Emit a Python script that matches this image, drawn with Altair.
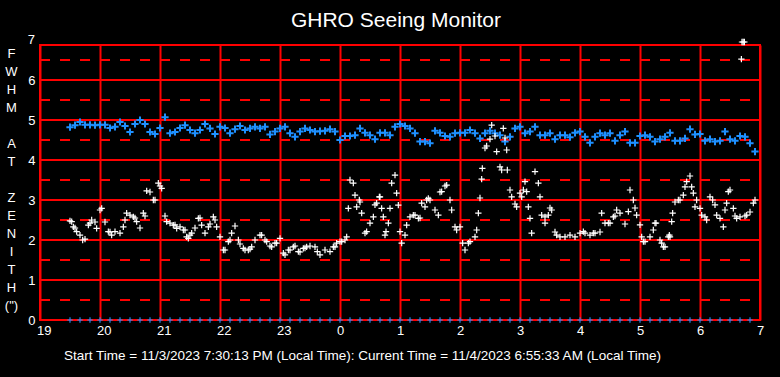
import altair as alt
import pandas as pd

# ---- data (FWHM in arcsec, sampled every 5 minutes from 19:30) ----
start_hour = 19.5
step_hours = 1 / 12

blue_fwhm = [
    4.82, 4.87, 4.95, 4.88, 4.88, 4.87, 4.88, 4.88, 4.80, 4.83, 4.95, 4.85, 4.70,
    4.90, 5.00, 4.90, 4.70, 4.65, 4.80, 5.07, 4.67, 4.70, 4.80, 4.87, 4.75,
    4.67, 4.75, 4.90, 4.79, 4.65, 4.83, 4.80, 4.67, 4.77, 4.85, 4.75, 4.79,
    4.83, 4.79, 4.83, 4.64, 4.71, 4.79, 4.83, 4.67, 4.58, 4.71, 4.79, 4.75,
    4.71, 4.72, 4.73, 4.77, 4.71, 4.50, 4.60, 4.60, 4.62, 4.79, 4.68, 4.62,
    4.52, 4.68, 4.68, 4.62, 4.83, 4.90, 4.85, 4.79, 4.67, 4.46, 4.46, 4.42,
    4.73, 4.68, 4.60, 4.58, 4.67, 4.68, 4.68, 4.75, 4.67, 4.54, 4.67, 4.73,
    4.67, 4.62, 4.46, 4.58, 4.79, 4.83, 4.67, 4.71, 4.83, 4.62, 4.62, 4.67,
    4.52, 4.62, 4.62, 4.57, 4.68, 4.71, 4.58, 4.43, 4.58, 4.67, 4.62, 4.67,
    4.48, 4.62, 4.71, 4.43, 4.43, 4.60, 4.62, 4.58, 4.46, 4.52, 4.58, 4.68,
    4.48, 4.48, 4.54, 4.77, 4.64, 4.65, 4.48, 4.52, 4.46, 4.48, 4.71, 4.52,
    4.48, 4.60, 4.58, 4.42, 4.21,
]

white_fwhm = [
    2.48, 2.30, 2.12, 2.02, 2.42, 2.45, 2.75, 2.45, 2.20, 2.21, 2.17, 2.50, 2.62,
    2.55, 2.30, 2.60, 3.20, 3.00, 3.35, 2.60, 2.42, 2.38, 2.33, 2.25, 2.12,
    2.30, 2.55, 2.17, 2.40, 2.50, 2.08, 1.75, 2.00, 2.35, 1.90, 1.75, 1.77,
    2.00, 2.12, 2.00, 1.85, 1.92, 2.04, 1.63, 1.75, 1.85, 1.70, 1.80, 1.85,
    1.83, 1.63, 1.75, 1.71, 1.83, 1.96, 2.00, 3.50, 3.12, 2.95, 2.17, 2.42,
    2.88, 3.08, 2.12, 2.79, 3.62, 2.21, 2.12, 2.58, 2.62, 2.55, 2.83, 3.00,
    2.75, 3.20, 3.35, 3.00, 2.33, 2.33, 1.75, 1.96, 2.08, 3.05, 4.30, 4.52,
    4.60, 3.83, 4.55, 3.25, 2.90, 3.17, 3.46, 2.54, 3.71, 3.08, 2.58, 2.80,
    2.20, 2.08, 2.08, 2.12, 2.08, 2.17, 2.17, 2.12, 2.17, 2.20, 2.42, 2.42,
    2.60, 2.67, 2.40, 3.25, 2.80, 2.38, 1.96, 2.08, 2.42, 2.00, 1.83, 2.08,
    2.95, 3.00, 3.33, 3.60, 2.83, 2.79, 2.58, 3.08, 2.88, 2.54, 2.75, 3.25,
    2.60, 2.58, 2.60, 2.70, 3.00,
]

# additional individually-read white readings (hour, FWHM)
white_extra_hours = [
    19.528, 19.556, 19.611, 19.711, 19.806, 19.861, 19.944, 20.028, 20.139, 20.194,
    20.389, 20.444, 20.556, 20.611, 20.722, 20.778, 20.889, 20.972, 21.028, 21.111,
    21.222, 21.278, 21.472,
    21.389, 21.444, 21.528, 21.639, 21.694, 21.806, 21.889, 21.944, 22.056, 22.139,
    22.194, 22.306, 22.389, 22.472, 22.528, 22.694, 22.778, 22.861, 22.944, 23.056,
    23.139, 23.222, 23.306, 23.389, 23.444,
    23.622, 23.889, 23.944, 24.028, 24.111, 24.139, 24.222, 24.278, 24.322, 24.361,
    24.444, 24.556, 24.611, 24.656, 24.694, 24.722, 24.767, 24.806, 24.861, 24.944,
    24.972, 25.028, 25.111, 25.222, 25.306, 25.361, 25.472,
    25.444, 25.639, 25.694, 25.778, 25.861, 25.944, 26.044, 26.139, 26.278, 26.306,
    26.361, 26.372, 26.444, 26.528, 26.611, 26.694, 26.722, 26.778, 26.789, 26.861,
    26.944, 27.028, 27.056, 27.111, 27.139, 27.194, 27.306, 27.361, 27.472,
    27.417, 27.528, 27.611, 28.056, 28.222, 28.361, 28.472, 28.556, 28.611, 28.806,
    28.889, 28.944, 29.028, 29.056, 29.222, 29.267, 29.361, 29.472,
    29.389, 29.489, 29.528, 29.544, 29.639, 29.722, 29.778, 29.861, 29.889, 29.944,
    30.028, 30.111, 30.211, 30.278, 30.389, 30.444, 30.472, 30.556, 30.611, 30.778,
    30.889,
]
white_extra_fwhm = [
    2.46, 2.33, 2.21, 2.00, 2.37, 2.50, 2.29, 2.79, 2.21, 2.12,
    2.33, 2.67, 2.58, 2.46, 2.67, 3.23, 3.00, 3.42, 3.29, 2.46,
    2.37, 2.29, 2.04,
    2.25, 2.08, 2.17, 2.54, 2.37, 2.33, 2.58, 2.33, 1.75, 1.96,
    2.17, 2.00, 1.79, 1.75, 1.83, 2.12, 1.96, 1.83, 1.92, 1.67,
    1.75, 1.83, 1.71, 1.79, 1.83,
    1.71, 1.83, 1.92, 1.96, 2.08, 2.79, 3.42, 2.83, 3.00, 2.67,
    2.21, 2.58, 2.92, 3.08, 2.79, 2.58, 2.21, 2.42, 3.42, 3.17,
    2.87, 1.92, 2.37, 2.62, 2.54, 2.92, 3.04,
    3.00, 2.62, 3.21, 3.37, 2.75, 2.25, 1.92, 1.92, 2.25, 2.67,
    3.52, 3.79, 4.35, 4.87, 4.21, 3.75, 4.79, 4.25, 3.75, 3.08,
    2.83, 3.08, 3.25, 3.21, 2.83, 2.17, 3.42, 2.62, 2.62,
    2.42, 2.75, 2.12, 2.21, 2.17, 2.67, 2.42, 2.58, 2.75, 2.71,
    3.00, 2.62, 2.08, 1.96, 2.25, 2.42, 1.92, 2.08,
    1.83, 2.12, 2.46, 2.67, 3.00, 3.12, 3.46, 3.33, 3.17, 3.00,
    2.62, 2.50, 3.00, 2.62, 2.33, 2.92, 3.21, 2.79, 2.54, 2.62,
    2.92,
]

# off-scale outliers near the top right
outlier_hours = [30.70, 30.72, 30.74, 30.69]
outlier_fwhm = [6.95, 6.95, 6.95, 6.52]

# zero-flag markers every 10 minutes along the bottom
zero_hours = [19.5 + i / 6 for i in range(69)]
zero_values = [0.0] * len(zero_hours)

int_levels = [1, 2, 3, 4, 5, 6]
half_levels = [0.5, 1.5, 2.5, 3.5, 4.5, 5.5, 6.5]
x_ticks = list(range(19, 32))
y_ticks = [0, 1, 2, 3, 4, 5, 6]
y_top_label = [7]

title_text = "GHRO Seeing Monitor"
footer_text = ("Start Time = 11/3/2023 7:30:13 PM (Local Time): "
               "Current Time = 11/4/2023 6:55:33 AM (Local Time)")
BLANK = "\u200b"
ylabel_lines = ["F", "W", "H", "M", BLANK, "A", "T", BLANK, "Z", "E", "N", "I", "T", "H", "(\")"]

# ---- frames ----
n_ex = min(len(white_extra_hours), len(white_extra_fwhm))
blue_df = pd.DataFrame({"t": [start_hour + i * step_hours for i in range(len(blue_fwhm))],
                        "v": blue_fwhm})
white_df = pd.DataFrame({"t": [start_hour + i * step_hours for i in range(len(white_fwhm))]
                         + white_extra_hours[:n_ex] + outlier_hours,
                         "v": white_fwhm + white_extra_fwhm[:n_ex] + outlier_fwhm})
zero_df = pd.DataFrame({"t": zero_hours, "v": zero_values})

FONT = "Liberation Sans"
RED = "#ff0000"
BLUE = "#1e90ff"
PLUS = "M-1,0L1,0M0,-1L0,1"
LW = 2

xscale = alt.Scale(domain=[19, 31], nice=False, zero=False)
yscale = alt.Scale(domain=[0, 6.875], nice=False)

x_axis = alt.Axis(
    values=x_ticks, labelExpr="datum.value % 24", grid=True, gridColor=RED,
    gridWidth=LW, gridOpacity=1, ticks=False, domain=False,
    labelColor="white", labelFont=FONT, labelFontSize=13, labelAlign="left",
    labelOffset=-3.5, labelPadding=4, labelBaseline="top", labelOverlap=False,
    title=footer_text, titleColor="white", titleFont=FONT, titleFontSize=13.5,
    titleFontWeight="normal", titleX=322, titleY=35, titleBaseline="middle",
    titleAlign="center",
)
y_axis = alt.Axis(
    values=y_ticks, grid=False, ticks=False, domain=False,
    labelColor="white", labelFont=FONT, labelFontSize=13, labelPadding=5,
    labelAlign="right", labelBaseline="middle", labelOverlap=False,
    title=ylabel_lines, titleAngle=0, titleColor="white", titleFont=FONT,
    titleFontSize=13, titleFontWeight="normal", titleLineHeight=18,
    titleAlign="center", titleBaseline="top", titleX=-29, titleY=2,
)

X = alt.X("t:Q", scale=xscale, axis=x_axis)
Y = alt.Y("v:Q", scale=yscale, axis=y_axis)

half_rules = alt.Chart(pd.DataFrame({"v": half_levels})).mark_rule(
    color=RED, strokeWidth=LW, strokeDash=[10, 10], strokeDashOffset=10
).encode(y=Y)

int_rules = alt.Chart(pd.DataFrame({"v": int_levels})).mark_rule(
    color=RED, strokeWidth=LW
).encode(y=Y)

top_label = alt.Chart(pd.DataFrame({"v": y_top_label})).mark_text(
    font=FONT, fontSize=13, color="white", align="right", baseline="middle"
).encode(y=Y, text="v:Q", x=alt.value(-5))

zero_pts = alt.Chart(zero_df).mark_point(
    shape=PLUS, filled=False, color=BLUE, size=30, strokeWidth=1.1, opacity=1
).encode(x=X, y=Y)

blue_pts = alt.Chart(blue_df).mark_point(
    shape=PLUS, filled=False, color=BLUE, size=52, strokeWidth=2, opacity=1
).encode(x=X, y=Y)

white_pts = alt.Chart(white_df).mark_point(
    shape=PLUS, filled=False, color="white", size=40, strokeWidth=1.2, opacity=1
).encode(x=X, y=Y)

title_mark = alt.Chart(pd.DataFrame({"txt": [title_text]})).mark_text(
    font=FONT, fontSize=21, color="white", align="center", baseline="middle"
).encode(text="txt:N", x=alt.value(356), y=alt.value(-24))

chart = alt.layer(
    half_rules, int_rules, top_label, zero_pts, blue_pts, white_pts, title_mark
).properties(
    width=720, height=275,
    autosize=alt.AutoSizeParams(type="none"),
    padding={"left": 40, "top": 45, "right": 20, "bottom": 57},
    background="black",
).configure_view(
    stroke=RED, strokeWidth=LW, fill="black"
)

chart.save("out.html", embed_options={"renderer": "svg", "actions": False})
